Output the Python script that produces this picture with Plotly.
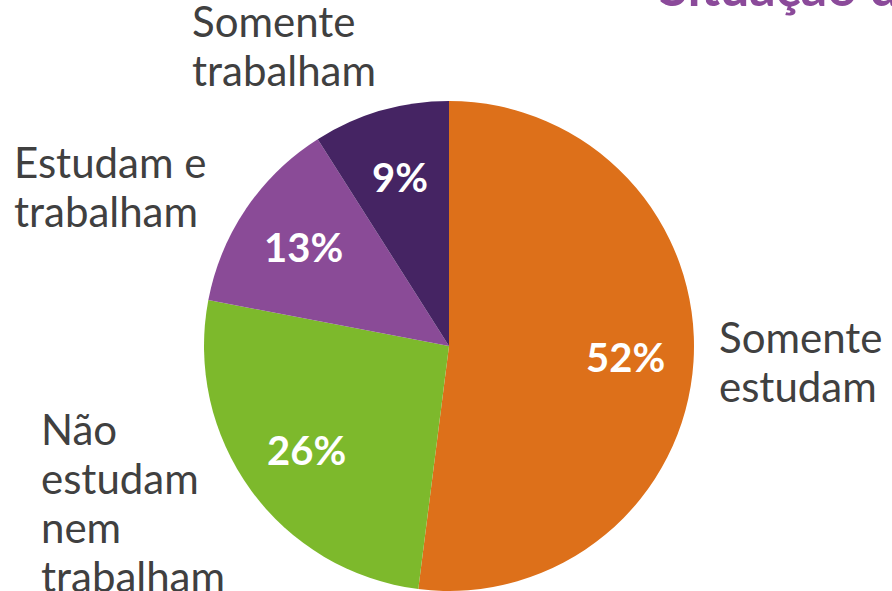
import math
import plotly.graph_objects as go

categories = ["Somente estudam", "Não estudam nem trabalham", "Estudam e trabalham", "Somente trabalham"]
label_lines = [["Somente", "estudam"], ["Não", "estudam", "nem", "trabalham"], ["Estudam e", "trabalham"], ["Somente", "trabalham"]]
values = [52, 26, 13, 9]
colors = ["#DD701A", "#7DB92C", "#8A4B97", "#452463"]
title_text = "Situação dos jovens"

W, H = 892, 591
cx, cy, R = 449, 346, 245

fig = go.Figure(go.Pie(
    labels=categories,
    values=values,
    sort=False,
    direction="clockwise",
    rotation=0,
    marker=dict(colors=colors, line=dict(width=0)),
    textinfo="none",
    hoverinfo="skip",
    showlegend=False,
    domain=dict(x=[(cx - R) / W, (cx + R) / W], y=[(H - cy - R) / H, (H - cy + R) / H]),
))

# percentage labels placed along each slice's bisector
total = sum(values)
cum = 0
for v in values:
    mid = (cum + v / 2) / total * 2 * math.pi
    cum += v
    px = cx + 0.72 * R * math.sin(mid)
    py = cy - 0.72 * R * math.cos(mid)
    fig.add_annotation(
        x=px / W, y=1 - py / H, xref="paper", yref="paper",
        text=f"{v}%", showarrow=False, xanchor="center", yanchor="middle",
        font=dict(family="Lato", size=40, color="white", weight="bold"),
    )

# category labels: (left x, first line centre y) in pixels
label_anchor = [(717, 337), (39, 429), (12, 162), (190, 21)]
line_step = 49
for lines, (lx, ly) in zip(label_lines, label_anchor):
    for i, ln in enumerate(lines):
        fig.add_annotation(
            x=lx / W, y=1 - (ly + i * line_step) / H, xref="paper", yref="paper",
            text=ln, showarrow=False, xanchor="left", yanchor="middle", align="left",
            font=dict(family="Lato", size=42, color="#404040"),
        )

fig.add_annotation(
    x=657 / W, y=1 - 19 / H, xref="paper", yref="paper",
    text=title_text, showarrow=False, xanchor="left", yanchor="bottom",
    font=dict(family="Lato", size=52, color="#8B4A9A", weight="bold"),
)

fig.update_layout(
    width=W, height=H,
    margin=dict(l=0, r=0, t=0, b=0),
    paper_bgcolor="white", plot_bgcolor="white",
)
fig.write_html("out.html")
